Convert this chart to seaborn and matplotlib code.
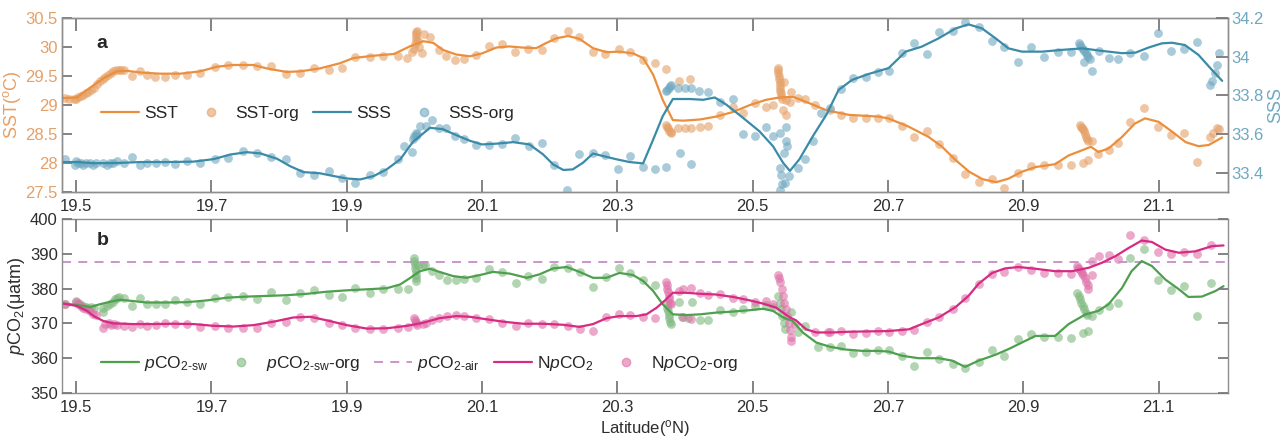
import numpy as np
import pandas as pd
import matplotlib
matplotlib.use("Agg")
import matplotlib.pyplot as plt
from matplotlib.ticker import FuncFormatter
from matplotlib.lines import Line2D
import seaborn as sns

# ---- panel a: smoothed lines ----
sst_lat = [19.481, 19.501, 19.52, 19.54, 19.56, 19.575, 19.595, 19.624, 19.654, 19.683, 19.708, 19.732,
           19.762, 19.782, 19.811, 19.831, 19.86, 19.89, 19.91, 19.94, 19.97, 19.993, 20.013, 20.028,
           20.042, 20.062, 20.082, 20.10, 20.121, 20.14, 20.16, 20.18, 20.195, 20.21, 20.227, 20.244,
           20.264, 20.284, 20.303, 20.323, 20.338, 20.353, 20.367, 20.382, 20.397, 20.422, 20.446,
           20.471, 20.496, 20.52, 20.54, 20.56, 20.584, 20.609, 20.642, 20.686, 20.70, 20.73, 20.76,
           20.78, 20.80, 20.82, 20.84, 20.86, 20.878, 20.898, 20.918, 20.947, 20.967, 20.987, 21.00,
           21.011, 21.026, 21.046, 21.065, 21.08, 21.10, 21.12, 21.14, 21.159, 21.174, 21.194]
sst_val = [29.12, 29.13, 29.29, 29.46, 29.58, 29.59, 29.56, 29.54, 29.54, 29.58, 29.66, 29.69,
           29.69, 29.63, 29.57, 29.58, 29.63, 29.72, 29.81, 29.85, 29.88, 30.01, 30.10, 30.07,
           29.95, 29.87, 29.84, 29.89, 29.99, 30.01, 29.99, 29.98, 30.07, 30.15, 30.19, 30.14,
           29.98, 29.91, 29.92, 29.89, 29.81, 29.52, 29.09, 28.74, 28.73, 28.75, 28.80,
           28.88, 29.00, 29.09, 29.13, 29.14, 29.03, 28.91, 28.83, 28.80, 28.77, 28.63, 28.45,
           28.28, 28.05, 27.85, 27.72, 27.67, 27.73, 27.85, 27.93, 27.98, 28.13, 28.22, 28.28,
           28.19, 28.25, 28.45, 28.68, 28.77, 28.71, 28.54, 28.36, 28.29, 28.31, 28.44]

sss_lat = [19.481, 19.501, 19.526, 19.56, 19.595, 19.634, 19.673, 19.703, 19.728, 19.752, 19.772,
           19.797, 19.816, 19.836, 19.86, 19.88, 19.90, 19.92, 19.94, 19.959, 19.979, 19.998,
           20.023, 20.042, 20.062, 20.082, 20.10, 20.121, 20.146, 20.17, 20.19, 20.205, 20.22,
           20.234, 20.249, 20.264, 20.279, 20.299, 20.318, 20.338, 20.353, 20.367, 20.382, 20.407,
           20.427, 20.444, 20.461, 20.486, 20.51, 20.53, 20.545, 20.555, 20.569, 20.589, 20.609,
           20.627, 20.647, 20.671, 20.701, 20.726, 20.75, 20.775, 20.80, 20.819, 20.839, 20.859,
           20.878, 20.898, 20.928, 20.957, 20.987, 21.016, 21.046, 21.066, 21.085, 21.105, 21.12,
           21.139, 21.159, 21.179, 21.194]
sss_val = [33.455, 33.455, 33.449, 33.45, 33.455, 33.455, 33.457, 33.47, 33.494, 33.506, 33.50,
           33.472, 33.434, 33.403, 33.397, 33.383, 33.37, 33.365, 33.383, 33.417, 33.469, 33.56,
           33.632, 33.625, 33.594, 33.565, 33.546, 33.55, 33.558, 33.546, 33.495, 33.443, 33.414,
           33.417, 33.451, 33.499, 33.486, 33.469, 33.455, 33.448, 33.572, 33.692, 33.781, 33.781,
           33.777, 33.789, 33.752, 33.683, 33.614, 33.537, 33.451, 33.409, 33.469, 33.589, 33.70,
           33.828, 33.88, 33.91, 33.941, 34.026, 34.052, 34.095, 34.146, 34.167, 34.146, 34.095,
           34.043, 34.026, 34.026, 34.035, 34.043, 34.03, 34.018, 34.021, 34.047, 34.069, 34.072,
           34.06, 34.009, 33.931, 33.875]

# ---- panel a: raw points ----
sst_org_lat = [19.484, 19.49, 19.497, 19.5, 19.503, 19.507, 19.51, 19.514, 19.518, 19.522, 19.527,
               19.531, 19.535, 19.539, 19.543, 19.547, 19.551, 19.555, 19.559, 19.563, 19.567,
               19.571, 19.582, 19.595, 19.604, 19.617, 19.632, 19.646, 19.664, 19.683, 19.705,
               19.725, 19.747, 19.767, 19.788, 19.81, 19.831, 19.851, 19.873, 19.893, 19.912,
               19.934, 19.954, 19.975, 19.989, 19.996, 20.0, 20.001, 20.002, 20.003, 20.003, 20.004,
               20.002, 20.005, 20.007, 20.011, 20.014, 20.023, 20.036, 20.047, 20.06, 20.073,
               20.091, 20.11, 20.13, 20.149, 20.168, 20.188, 20.207, 20.227, 20.244, 20.264,
               20.282, 20.302, 20.319, 20.338, 20.355, 20.372, 20.391, 20.408,
               20.372, 20.374, 20.375, 20.377, 20.379, 20.38, 20.39, 20.40, 20.409, 20.422, 20.434,
               20.452, 20.471, 20.486, 20.503, 20.52, 20.53,
               20.537, 20.538, 20.538, 20.539, 20.539, 20.54, 20.54, 20.541, 20.541, 20.542, 20.542,
               20.543, 20.547, 20.545, 20.549, 20.549, 20.555, 20.557, 20.567, 20.577, 20.592,
               20.614, 20.631, 20.649, 20.667, 20.685, 20.702, 20.721, 20.739, 20.758, 20.776,
               20.796, 20.814, 20.834, 20.854, 20.872, 20.892, 20.912, 20.931, 20.951, 20.97,
               20.984, 20.986, 20.987, 20.988, 20.99, 20.991, 20.993, 20.994, 20.996,
               20.988, 20.996, 21.001, 21.011, 21.026, 21.04, 21.058, 21.078, 21.099, 21.118,
               21.138, 21.157, 21.176, 21.181, 21.186, 21.189]
sst_org_val = [29.12, 29.10, 29.10, 29.11, 29.13, 29.15, 29.17, 29.20, 29.23, 29.26, 29.30,
               29.36, 29.41, 29.45, 29.49, 29.52, 29.55, 29.58, 29.60, 29.61, 29.60,
               29.60, 29.50, 29.59, 29.51, 29.49, 29.49, 29.52, 29.52, 29.55, 29.65,
               29.69, 29.69, 29.67, 29.67, 29.53, 29.55, 29.63, 29.60, 29.63, 29.82,
               29.82, 29.85, 29.84, 29.81, 29.92, 29.96, 30.05, 30.12, 30.18, 30.22, 30.27,
               30.25, 30.10, 30.00, 29.90, 30.22, 30.17, 29.94, 29.85, 29.78, 29.79,
               29.87, 30.02, 30.05, 29.91, 29.97, 29.94, 30.15, 30.27, 30.18, 29.91,
               29.88, 29.97, 29.91, 29.78, 29.72, 29.62, 29.42, 29.44,
               28.65, 28.62, 28.60, 28.56, 28.53, 28.51, 28.60, 28.61, 28.61, 28.62, 28.64,
               28.83, 28.96, 28.87, 29.03, 28.97, 29.00,
               29.63, 29.60, 29.55, 29.50, 29.45, 29.40, 29.35, 29.30, 29.25, 29.20, 29.15,
               29.10, 29.40, 28.91, 28.83, 29.09, 29.06, 29.23, 29.12, 29.10, 29.00,
               28.91, 28.83, 28.77, 28.77, 28.77, 28.77, 28.64, 28.44, 28.55, 28.32,
               28.09, 27.81, 27.67, 27.73, 27.57, 27.83, 27.94, 27.97, 27.96, 27.96,
               28.65, 28.62, 28.60, 28.58, 28.55, 28.50, 28.45, 28.42, 28.38,
               28.00, 28.06, 28.38, 28.15, 28.22, 28.34, 28.71, 28.95, 28.62, 28.49,
               28.52, 28.01, 28.45, 28.52, 28.60, 28.58]

sss_org_lat = [19.484, 19.498, 19.5, 19.503, 19.507, 19.51, 19.515, 19.52, 19.525, 19.53, 19.54,
               19.545, 19.55, 19.555, 19.56, 19.571, 19.582, 19.595, 19.605, 19.618, 19.632,
               19.646, 19.664, 19.683, 19.705, 19.725, 19.747, 19.767, 19.788, 19.81, 19.831,
               19.851, 19.873, 19.893, 19.912, 19.934, 19.954, 19.975, 19.984, 19.996, 19.998,
               20.0, 20.002, 20.003, 20.004, 20.008, 20.017, 20.026, 20.036, 20.047, 20.06,
               20.073, 20.091, 20.11, 20.13, 20.149, 20.169, 20.188, 20.207, 20.226, 20.244,
               20.264, 20.282, 20.301, 20.319, 20.338, 20.355, 20.372,
               20.372, 20.374, 20.376, 20.378, 20.38, 20.39, 20.40, 20.409, 20.421, 20.434,
               20.392, 20.409, 20.452, 20.471, 20.486, 20.503, 20.52, 20.53, 20.54, 20.549,
               20.54, 20.542, 20.543, 20.541, 20.548, 20.553, 20.551, 20.549, 20.547,
               20.567, 20.577, 20.589, 20.601, 20.614, 20.631, 20.649, 20.667, 20.685, 20.702,
               20.721, 20.739, 20.758, 20.776, 20.796, 20.814, 20.834, 20.854, 20.872, 20.892,
               20.912, 20.931, 20.951, 20.97,
               20.982, 20.984, 20.986, 20.988, 20.99, 20.992, 20.994, 20.996, 20.998, 20.99,
               21.001, 21.012, 21.026, 21.04, 21.058, 21.078, 21.099, 21.118, 21.138, 21.157,
               21.176, 21.179, 21.183, 21.186, 21.189]
sss_org_val = [33.469, 33.44, 33.46, 33.45, 33.45, 33.44, 33.45, 33.45, 33.44, 33.45, 33.45,
               33.44, 33.45, 33.45, 33.46, 33.45, 33.48, 33.44, 33.45, 33.45, 33.455,
               33.443, 33.46, 33.45, 33.47, 33.477, 33.51, 33.50, 33.482, 33.469, 33.397,
               33.386, 33.409, 33.374, 33.345, 33.388, 33.403, 33.469, 33.537, 33.506, 33.572,
               33.59, 33.606, 33.589, 33.60, 33.64, 33.644, 33.671, 33.632, 33.632, 33.589,
               33.575, 33.542, 33.542, 33.549, 33.58, 33.537, 33.554, 33.438, 33.311, 33.499,
               33.503, 33.494, 33.417, 33.486, 33.431, 33.421, 33.431,
               33.82, 33.83, 33.84, 33.85, 33.855, 33.837, 33.837, 33.837, 33.82, 33.815,
               33.503, 33.446, 33.764, 33.781, 33.601, 33.592, 33.637, 33.592, 33.606, 33.635,
               33.426, 33.39, 33.343, 33.311, 33.349, 33.383, 33.537, 33.563, 33.503,
               33.426, 33.469, 33.563, 33.709, 33.734, 33.832, 33.889, 33.897, 33.92, 33.927,
               34.017, 34.072, 34.012, 34.129, 34.134, 34.18, 34.155, 34.083, 34.052, 33.975,
               34.052, 33.997, 34.023, 34.026,
               34.07, 34.06, 34.05, 34.04, 34.03, 34.02, 34.01, 34.0, 33.99, 33.97,
               33.928, 34.03, 33.992, 33.987, 34.017, 34.004, 34.124, 34.031, 34.038, 34.077,
               33.855, 33.872, 33.918, 33.957, 34.017]

# ---- panel b: smoothed lines ----
psw_lat = [19.481, 19.501, 19.521, 19.535, 19.55, 19.565, 19.585, 19.604, 19.634, 19.664, 19.693,
           19.723, 19.752, 19.782, 19.811, 19.841, 19.87, 19.90, 19.93, 19.959, 19.979, 19.994,
           20.008, 20.023, 20.037, 20.057, 20.077, 20.097, 20.116, 20.141, 20.166, 20.185, 20.205,
           20.225, 20.244, 20.264, 20.284, 20.303, 20.323, 20.338, 20.353, 20.367, 20.382, 20.402,
           20.422, 20.446, 20.471, 20.496, 20.515, 20.53, 20.545, 20.559, 20.574, 20.594, 20.614,
           20.637, 20.662, 20.686, 20.701, 20.721, 20.745, 20.775, 20.795, 20.814, 20.834, 20.859,
           20.878, 20.898, 20.918, 20.947, 20.967, 20.992, 21.011, 21.026, 21.046, 21.06, 21.075,
           21.09, 21.11, 21.13, 21.144, 21.164, 21.184, 21.196]
psw_val = [375.7, 375.3, 374.7, 375.5, 376.2, 376.8, 376.4, 376.0, 376.0, 376.1, 376.6,
           377.4, 377.7, 377.9, 378.1, 378.5, 379.1, 379.5, 379.8, 380.1, 381.2, 383.1,
           385.0, 385.7, 384.8, 383.6, 383.1, 383.9, 384.8, 384.3, 383.1, 384.1, 385.8,
           386.2, 384.8, 383.1, 383.1, 384.5, 383.9, 382.2, 379.3, 375.5, 372.6, 372.4,
           372.6, 373.1, 373.4, 373.8, 374.2, 373.6, 371.7, 370.7, 367.4, 364.5, 363.3,
           362.5, 362.1, 362.1, 361.9, 360.7, 360.0, 360.0, 359.3, 357.5, 359.3, 361.0,
           362.6, 364.5, 366.4, 366.4, 369.8, 372.6, 373.6, 375.5, 380.2, 385.0, 387.9,
           386.5, 382.6, 379.8, 377.6, 377.7, 379.3, 380.7]

npco2_lat = [19.481, 19.501, 19.516, 19.526, 19.54, 19.555, 19.585, 19.614, 19.644, 19.674, 19.703,
             19.733, 19.762, 19.792, 19.821, 19.846, 19.87, 19.90, 19.93, 19.959, 19.989, 20.013,
             20.037, 20.062, 20.082, 20.106, 20.131, 20.161, 20.19, 20.22, 20.244, 20.264,
             20.284, 20.303, 20.328, 20.343, 20.358, 20.372, 20.382, 20.402, 20.422, 20.446,
             20.471, 20.496, 20.515, 20.535, 20.545, 20.555, 20.564, 20.579, 20.594, 20.619,
             20.642, 20.671, 20.701, 20.731, 20.75, 20.775, 20.80, 20.819, 20.834, 20.854,
             20.873, 20.893, 20.918, 20.947, 20.972, 20.997, 21.016, 21.036, 21.056, 21.075,
             21.09, 21.11, 21.13, 21.154, 21.179, 21.196]
npco2_val = [375.7, 375.0, 373.6, 372.1, 370.7, 370.0, 369.8, 369.8, 369.9, 369.8, 369.3,
             369.1, 369.5, 370.5, 371.7, 371.9, 370.9, 369.5, 368.5, 368.6, 369.3, 370.2,
             371.5, 372.1, 371.9, 371.2, 370.5, 369.9, 369.9, 369.6, 369.0, 369.8,
             371.5, 372.1, 372.1, 372.6, 374.5, 376.9, 378.8, 378.8, 378.5, 378.3,
             377.6, 376.6, 375.7, 374.5, 373.1, 371.7, 370.9, 368.3, 367.4, 367.4,
             367.6, 367.7, 367.8, 368.3, 369.8, 371.7, 374.7, 377.9, 381.4, 384.5,
             385.8, 386.2, 385.7, 385.0, 385.0, 386.0, 387.4, 389.3, 391.7, 393.8,
             393.4, 391.2, 390.3, 390.7, 392.2, 392.4]

pco2_air = 387.5

# ---- panel b: raw points ----
psw_org_lat = [19.484, 19.5, 19.503, 19.506, 19.51, 19.514, 19.518, 19.522, 19.526, 19.539, 19.54,
               19.545, 19.55, 19.555, 19.558, 19.56, 19.563, 19.571, 19.582, 19.595, 19.605,
               19.618, 19.632, 19.646, 19.664, 19.683, 19.705, 19.725, 19.747, 19.767, 19.788,
               19.81, 19.831, 19.851, 19.873, 19.893, 19.912, 19.934, 19.954, 19.975, 19.99,
               20.0, 20.0, 20.001, 20.001, 20.002, 20.002, 20.003, 20.003, 20.005, 20.013,
               20.015, 20.026, 20.036, 20.048, 20.061, 20.073, 20.091, 20.11, 20.13, 20.15,
               20.168, 20.188, 20.207, 20.227, 20.245, 20.264, 20.283, 20.302, 20.319, 20.338,
               20.355, 20.373, 20.374, 20.375, 20.376, 20.377, 20.378, 20.38, 20.391, 20.411,
               20.395, 20.404, 20.422, 20.434, 20.452, 20.471, 20.486, 20.503, 20.52, 20.53,
               20.538, 20.54, 20.542, 20.544, 20.546, 20.548, 20.557, 20.567, 20.577, 20.596,
               20.614, 20.631, 20.649, 20.667, 20.685, 20.702, 20.721, 20.739, 20.758, 20.776,
               20.796, 20.814, 20.834, 20.854, 20.872, 20.892, 20.912, 20.931, 20.951, 20.97,
               20.979, 20.982, 20.984, 20.986, 20.988, 20.99, 20.992, 20.994, 20.988, 20.996,
               21.001, 21.012, 21.026, 21.04, 21.058, 21.078, 21.099, 21.118, 21.138, 21.157,
               21.177]
psw_org_val = [375.7, 376.5, 376.0, 375.5, 375.0, 374.8, 374.5, 374.8, 374.3, 373.4, 374.3,
               375.0, 375.7, 376.2, 376.9, 377.4, 377.6, 377.2, 375.0, 377.2, 375.5,
               375.7, 375.7, 376.6, 376.2, 375.7, 377.4, 377.7, 377.9, 377.1, 379.1,
               376.7, 378.6, 379.6, 378.1, 377.7, 380.1, 378.8, 379.8, 379.8, 379.8,
               388.8, 388.0, 387.0, 386.0, 385.0, 384.0, 383.0, 382.3, 386.9, 386.9,
               386.9, 385.0, 383.8, 382.6, 382.6, 382.8, 383.1, 385.5, 384.7, 381.7,
               383.6, 382.8, 386.2, 385.8, 384.8, 380.4, 383.3, 386.0, 384.5, 382.4,
               381.0, 375.5, 374.5, 373.5, 372.5, 371.5, 370.5, 369.8, 376.2, 376.2,
               371.7, 371.5, 371.0, 370.9, 373.8, 373.3, 374.0, 375.0, 375.3, 374.6,
               378.0, 376.0, 374.0, 372.0, 370.0, 368.3, 373.4, 367.4, 369.3, 363.3,
               363.1, 363.4, 361.6, 361.9, 362.3, 362.3, 360.5, 357.8, 361.9, 359.7,
               358.3, 357.2, 358.8, 362.4, 360.7, 365.6, 366.9, 366.1, 366.1, 365.9,
               378.8, 378.0, 377.0, 376.0, 375.0, 374.0, 373.0, 372.5, 367.2, 367.8,
               372.1, 373.9, 375.0, 376.0, 388.8, 391.4, 382.4, 379.6, 380.7, 372.1,
               381.5]

npco2_org_lat = [19.484, 19.5, 19.503, 19.507, 19.51, 19.515, 19.52, 19.525, 19.53, 19.539, 19.543,
                 19.548, 19.552, 19.556, 19.56, 19.571, 19.582, 19.595, 19.605, 19.618, 19.632,
                 19.646, 19.664, 19.683, 19.705, 19.725, 19.747, 19.767, 19.788, 19.81, 19.831,
                 19.851, 19.873, 19.893, 19.912, 19.934, 19.954, 19.975, 19.99, 20.0, 20.001,
                 20.002, 20.003, 20.004, 20.013, 20.017, 20.026, 20.036, 20.048, 20.061, 20.073,
                 20.091, 20.11, 20.13, 20.15, 20.168, 20.188, 20.207, 20.227, 20.245, 20.264,
                 20.283, 20.302, 20.319, 20.338, 20.355, 20.372, 20.373, 20.374, 20.375, 20.376,
                 20.377, 20.378, 20.38, 20.391, 20.397, 20.409, 20.422, 20.434, 20.397, 20.409,
                 20.452, 20.471, 20.486, 20.503, 20.52, 20.53, 20.537, 20.539, 20.541, 20.543,
                 20.545, 20.547, 20.549, 20.551, 20.553, 20.555, 20.556, 20.557, 20.562, 20.592,
                 20.614, 20.631, 20.612, 20.649, 20.667, 20.685, 20.702, 20.721, 20.739, 20.758,
                 20.776, 20.796, 20.814, 20.834, 20.854, 20.872, 20.892, 20.912, 20.931, 20.951,
                 20.97, 20.979, 20.981, 20.983, 20.985, 20.987, 20.989, 20.991, 20.993, 20.995,
                 20.996, 21.001, 21.002, 21.012, 21.026, 21.04, 21.058, 21.078, 21.099, 21.118,
                 21.138, 21.157, 21.177]
npco2_org_val = [375.7, 376.2, 375.5, 375.0, 374.5, 374.0, 373.5, 372.8, 372.3, 368.8, 369.8,
                 370.2, 369.6, 369.9, 369.4, 369.3, 369.1, 369.8, 369.3, 369.6, 370.2,
                 369.8, 369.8, 369.1, 369.3, 368.6, 368.8, 368.8, 370.2, 370.5, 371.9,
                 371.5, 370.2, 369.5, 368.8, 368.3, 368.3, 368.6, 369.0, 371.5, 371.0,
                 370.5, 370.0, 369.5, 369.9, 370.2, 370.9, 371.5, 372.1, 372.4, 372.1,
                 371.5, 371.2, 370.2, 369.3, 370.2, 369.8, 369.8, 369.3, 368.3, 367.8,
                 371.7, 372.6, 372.3, 371.7, 371.5, 382.0, 381.0, 380.0, 379.0, 378.0,
                 377.0, 376.0, 375.5, 379.4, 380.0, 380.2, 378.8, 378.3, 371.7, 371.2,
                 378.5, 377.4, 376.9, 376.2, 376.5, 375.7, 384.0, 383.0, 382.0, 380.0,
                 378.0, 376.0, 374.0, 372.0, 370.0, 368.0, 366.0, 365.0, 369.8, 367.4,
                 367.4, 367.8, 367.4, 366.9, 367.2, 367.7, 367.6, 367.8, 368.1, 370.5,
                 371.9, 374.2, 377.4, 381.4, 384.1, 384.8, 386.2, 385.2, 384.4, 384.5,
                 384.3, 386.5, 386.0, 385.5, 385.0, 384.5, 384.0, 383.0, 382.0, 381.0,
                 379.8, 383.9, 387.9, 389.3, 389.6, 388.5, 395.5, 394.1, 390.6, 390.0,
                 390.6, 390.0, 392.5]

# colours
c_sst, c_sst_pt = "#EC8F3C", "#E5A068"
c_sss, c_sss_pt = "#3A8BA8", "#6FA8C0"
c_sw, c_sw_pt = "#4E9F4E", "#7DB87D"
c_n, c_n_pt = "#D62A83", "#DE6FA8"
c_air = "#C58DC8"
c_axis = "#8E8E8E"
c_txt = "#2E2E2E"

sns.set_theme(style="ticks", rc={"xtick.direction": "in", "ytick.direction": "in",
                                 "xtick.top": True, "xtick.bottom": True,
                                 "xtick.major.size": 9, "ytick.major.size": 7,
                                 "xtick.major.width": 1.2, "ytick.major.width": 1.2,
                                 "xtick.color": c_axis, "ytick.color": c_axis,
                                 "axes.edgecolor": c_axis, "axes.linewidth": 1.0})
plt.rcParams["font.family"] = ["Liberation Sans", "DejaVu Sans"]
plt.rcParams["mathtext.fontset"] = "custom"
plt.rcParams["mathtext.rm"] = "Liberation Sans"
plt.rcParams["mathtext.it"] = "Liberation Sans:italic"
plt.rcParams["font.size"] = 12

fig = plt.figure(figsize=(12.88, 4.4), dpi=100)
ax1 = fig.add_axes([0.0481, 0.5636, 0.905, 0.3955])
ax3 = fig.add_axes([0.0481, 0.1068, 0.905, 0.3955])
ax2 = ax1.twinx()

fmt = FuncFormatter(lambda v, p: "%g" % round(v, 3))
pt = dict(s=40, alpha=0.6, linewidth=0)

# panel a
sns.scatterplot(x=sst_org_lat, y=sst_org_val, color=c_sst_pt, ax=ax1, **pt)
sns.lineplot(x=sst_lat, y=sst_val, color=c_sst, lw=1.6, ax=ax1, sort=False)
sns.scatterplot(x=sss_org_lat, y=sss_org_val, color=c_sss_pt, ax=ax2, **pt)
sns.lineplot(x=sss_lat, y=sss_val, color=c_sss, lw=1.6, ax=ax2, sort=False)

ax1.set_ylim(27.5, 30.5)
ax1.set_yticks(np.arange(27.5, 30.51, 0.5))
ax2.set_ylim(33.3, 34.2)
ax2.set_yticks([33.4, 33.6, 33.8, 34.0, 34.2])
ax1.set_ylabel("SST($^{\\rm o}$C)", color=c_sst_pt, fontsize=13, labelpad=2)
ax2.set_ylabel("SSS", color=c_sss_pt, fontsize=13, labelpad=2)
ax1.text(19.53, 29.98, "a", fontsize=14, fontweight="bold")

h_a = [Line2D([], [], color=c_sst, lw=1.6),
       Line2D([], [], color=c_sst_pt, marker="o", ls="", ms=6, alpha=0.6),
       Line2D([], [], color=c_sss, lw=1.6),
       Line2D([], [], color=c_sss_pt, marker="o", ls="", ms=6, alpha=0.6)]
ax1.legend(h_a, ["SST", "SST-org", "SSS", "SSS-org"], loc="center left",
           bbox_to_anchor=(0.02, 0.45), ncol=4, frameon=False, fontsize=12.5,
           handlelength=2.2, handletextpad=0.3, columnspacing=0.8)

# panel b
ax3.axhline(pco2_air, color=c_air, lw=1.3, ls=(0, (5, 4)))
sns.scatterplot(x=psw_org_lat, y=psw_org_val, color=c_sw_pt, ax=ax3, **pt)
sns.scatterplot(x=npco2_org_lat, y=npco2_org_val, color=c_n_pt, ax=ax3, **pt)
sns.lineplot(x=psw_lat, y=psw_val, color=c_sw, lw=1.6, ax=ax3, sort=False)
sns.lineplot(x=npco2_lat, y=npco2_val, color=c_n, lw=1.6, ax=ax3, sort=False)
ax3.set_ylim(350, 400)
ax3.set_yticks(np.arange(350, 401, 10))
ax3.set_ylabel("$\\it{p}$CO$_2$(μatm)", fontsize=13, labelpad=2, color=c_txt)
ax3.set_xlabel("Latitude($^{\\rm o}$N)", fontsize=12, labelpad=2, color=c_txt)
ax3.text(19.53, 392.5, "b", fontsize=14, fontweight="bold")

h_b = [Line2D([], [], color=c_sw, lw=1.6),
       Line2D([], [], color=c_sw_pt, marker="o", ls="", ms=6, alpha=0.6),
       Line2D([], [], color=c_air, lw=1.3, ls=(0, (5, 4))),
       Line2D([], [], color=c_n, lw=1.6),
       Line2D([], [], color=c_n_pt, marker="o", ls="", ms=6, alpha=0.6)]
l_b = ["$\\it{p}$CO$_{\\rm 2\\text{-}sw}$", "$\\it{p}$CO$_{\\rm 2\\text{-}sw}$-org",
       "$\\it{p}$CO$_{\\rm 2\\text{-}air}$", "N$\\it{p}$CO$_2$", "N$\\it{p}$CO$_2$-org"]
ax3.legend(h_b, l_b, loc="center left", bbox_to_anchor=(0.02, 0.17), ncol=5,
           frameon=False, fontsize=12.5, handlelength=2.2, handletextpad=0.3,
           columnspacing=0.8)

# shared axis styling (MATLAB-like box, inward ticks)
xt = [19.5, 19.7, 19.9, 20.1, 20.3, 20.5, 20.7, 20.9, 21.1]
for ax in (ax1, ax2, ax3):
    ax.set_xlim(19.479, 21.202)
    ax.set_xticks(xt)
    ax.xaxis.set_major_formatter(fmt)
    ax.yaxis.set_major_formatter(fmt)

ax1.tick_params(axis="x", labelsize=12, pad=5)
ax3.tick_params(axis="x", labelsize=12, pad=5)
ax1.tick_params(axis="y", labelsize=12, pad=3)
ax2.tick_params(axis="y", length=9, labelsize=12, pad=3)
ax3.tick_params(axis="y", right=True, labelsize=12, pad=3)
ax1.set_xlabel("")

# tick label colours set per label so the tick marks keep their grey
for ax in (ax1, ax3):
    for lab in ax.get_xticklabels():
        lab.set_color(c_txt)
for lab in ax1.get_yticklabels():
    lab.set_color(c_sst_pt)
for lab in ax2.get_yticklabels():
    lab.set_color(c_sss_pt)
for lab in ax3.get_yticklabels():
    lab.set_color(c_txt)

# draw tick marks above the data (seaborn's style keeps axis artists below)
for ax in (ax1, ax2, ax3):
    ax.set_axisbelow(False)
    ax.tick_params(which="major", color="#7A7A7A", width=1.3)

fig.savefig("out.png", dpi=100)
